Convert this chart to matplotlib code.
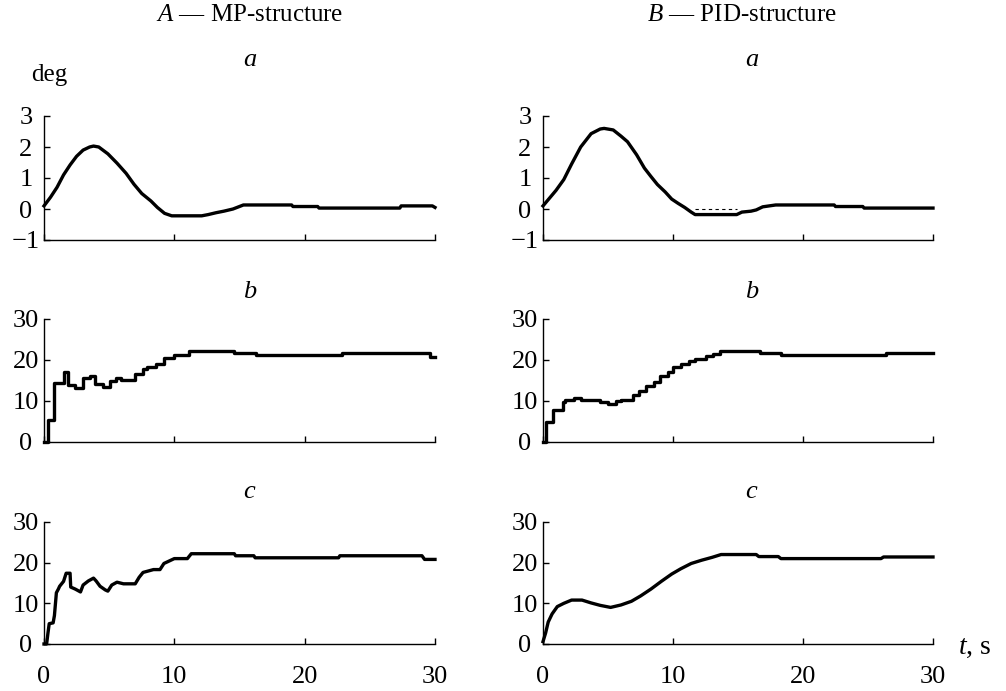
import matplotlib
matplotlib.use("Agg")
import matplotlib.pyplot as plt

plt.rcParams['font.family'] = ['Liberation Serif', 'DejaVu Serif']
plt.rcParams['mathtext.fontset'] = 'custom'
plt.rcParams['mathtext.rm'] = 'Liberation Serif'
plt.rcParams['mathtext.it'] = 'Liberation Serif:italic'

# A (MP-structure), panel a: angle, deg
t_Aa = [0, 0.5, 1.0, 1.5, 2.0, 2.5, 3.0, 3.5, 3.8, 4.2, 4.9, 5.6, 6.3, 6.9, 7.5, 8.2,
        8.7, 9.25, 9.8, 12.1, 12.6, 13.2, 13.8, 14.5, 15.3, 19.0, 19.1, 21.0, 21.1,
        27.3, 27.4, 29.8, 30]
v_Aa = [0.1, 0.38, 0.7, 1.1, 1.42, 1.7, 1.9, 2.0, 2.03, 2.0, 1.78, 1.48, 1.15, 0.8,
        0.5, 0.26, 0.05, -0.14, -0.22, -0.22, -0.18, -0.12, -0.07, 0.0, 0.13, 0.13,
        0.08, 0.08, 0.03, 0.03, 0.1, 0.1, 0.05]

# B (PID-structure), panel a
t_Ba = [0, 0.5, 1.0, 1.6, 2.2, 2.9, 3.7, 4.4, 4.7, 5.4, 6.0, 6.5, 7.2, 7.8, 8.3, 8.8,
        9.4, 9.9, 10.4, 10.9, 11.4, 11.7, 14.9, 15.3, 16.0, 16.4, 16.9, 17.9, 22.4,
        22.5, 24.6, 24.7, 30]
v_Ba = [0.1, 0.35, 0.6, 0.95, 1.45, 2.0, 2.43, 2.58, 2.6, 2.55, 2.35, 2.17, 1.75,
        1.32, 1.05, 0.79, 0.55, 0.32, 0.18, 0.05, -0.1, -0.18, -0.18, -0.1, -0.07,
        -0.03, 0.07, 0.13, 0.13, 0.08, 0.08, 0.03, 0.03]
t_Ba_ref = [11.7, 14.9]
v_Ba_ref = [0, 0]

# panel b (step signals)
t_Ab = [0, 0.3, 0.8, 1.5, 1.85, 2.4, 3.0, 3.5, 3.9, 4.5, 5.1, 5.5, 5.9, 7.0, 7.6, 7.9,
        8.6, 9.2, 10.0, 11.1, 14.6, 16.3, 22.9, 29.6, 30]
v_Ab = [0, 5.3, 14.3, 17.0, 13.8, 13.2, 15.6, 16.2, 14.2, 13.3, 14.8, 15.6, 15.2,
        16.5, 17.8, 18.3, 19.0, 20.6, 21.2, 22.2, 21.6, 21.2, 21.6, 20.8, 20.8]

t_Bb = [0, 0.25, 0.8, 1.5, 1.7, 2.4, 2.9, 4.4, 5.0, 5.6, 6.0, 6.9, 7.4, 7.9, 8.5, 9.0,
        9.6, 10.0, 10.6, 11.2, 11.7, 12.5, 13.1, 13.6, 16.7, 18.3, 26.4, 30]
v_Bb = [0, 4.9, 7.9, 9.8, 10.3, 10.8, 10.3, 9.8, 9.3, 10.0, 10.3, 11.4, 12.4, 13.6,
        14.6, 16.0, 17.1, 18.3, 19.0, 19.7, 20.3, 20.9, 21.5, 22.2, 21.6, 21.2, 21.6,
        21.6]

# panel c
t_Ac = [0, 0.2, 0.3, 0.4, 0.7, 0.8, 0.95, 1.1, 1.2, 1.5, 1.7, 2.0, 2.05, 2.4, 2.8,
        3.0, 3.4, 3.8, 4.0, 4.3, 4.7, 4.9, 5.2, 5.6, 6.1, 7.0, 7.3, 7.6, 8.4, 8.9,
        9.2, 9.6, 10.0, 11.0, 11.3, 14.6, 14.7, 16.1, 16.2, 22.6, 22.7, 29.0, 29.2, 30]
v_Ac = [0, 0, 2.6, 5.0, 5.2, 7.0, 12.6, 13.5, 14.2, 15.4, 17.4, 17.4, 14.0, 13.5,
        12.8, 14.5, 15.5, 16.2, 15.5, 14.2, 13.3, 13.0, 14.5, 15.2, 14.8, 14.8, 16.4,
        17.6, 18.3, 18.3, 19.8, 20.4, 21.0, 21.0, 22.2, 22.2, 21.7, 21.7, 21.2, 21.2,
        21.7, 21.7, 20.8, 20.8]

t_Bc = [0, 0.2, 0.4, 0.7, 1.1, 1.6, 2.2, 3.0, 3.7, 4.4, 5.2, 6.0, 6.8, 7.5, 8.3, 9.1,
        9.9, 10.6, 11.4, 12.2, 13.0, 13.7, 16.4, 16.6, 18.1, 18.3, 26.0, 26.2, 30]
v_Bc = [0.6, 2.7, 5.4, 7.4, 9.2, 10.0, 10.8, 10.8, 10.1, 9.5, 9.0, 9.6, 10.5, 11.8,
        13.5, 15.4, 17.2, 18.5, 19.8, 20.6, 21.3, 22.0, 22.0, 21.5, 21.5, 21.0, 21.0,
        21.4, 21.4]

W, H = 1006, 691
fig = plt.figure(figsize=(W / 100, H / 100), dpi=100)

cols = [(44, 435), (543, 933)]
rows = [(116, 240), (319, 442), (522, 644)]
TICK_FS = 19


def make_ax(c, r):
    x0, x1 = cols[c]
    y0, y1 = rows[r]
    ax = fig.add_axes([x0 / W, 1 - y1 / H, (x1 - x0) / W, (y1 - y0) / H])
    for s in ['top', 'right']:
        ax.spines[s].set_visible(False)
    for s in ['left', 'bottom']:
        ax.spines[s].set_linewidth(1.0)
    ax.set_xlim(0, 30)
    ax.set_xticks([0, 10, 20, 30])
    ax.tick_params(direction='in', length=4, width=1, labelsize=TICK_FS)
    ax.tick_params(axis='x', pad=16)
    ax.tick_params(axis='y', pad=13)
    if r < 2:
        ax.set_xticklabels([])
    if r == 0:
        ax.set_ylim(-1, 3)
        ax.set_yticks([-1, 0, 1, 2, 3])
        ax.set_yticklabels(['\u22121', '0', '1', '2', '3'])
    else:
        ax.set_ylim(0, 30)
        ax.set_yticks([0, 10, 20, 30])
    for lab in ax.get_yticklabels():
        lab.set_horizontalalignment('center')
    return ax


lw = 2.4
ax = make_ax(0, 0)
ax.plot(t_Aa, v_Aa, color='black', lw=lw, clip_on=False)
ax = make_ax(1, 0)
ax.plot(t_Ba, v_Ba, color='black', lw=lw, clip_on=False)
ax.plot(t_Ba_ref, v_Ba_ref, color='black', lw=0.8, ls=(0, (3, 3)))
ax = make_ax(0, 1)
ax.step(t_Ab, v_Ab, where='post', color='black', lw=lw, clip_on=False)
ax = make_ax(1, 1)
ax.step(t_Bb, v_Bb, where='post', color='black', lw=lw, clip_on=False)
ax = make_ax(0, 2)
ax.plot(t_Ac, v_Ac, color='black', lw=lw, clip_on=False)
ax = make_ax(1, 2)
ax.plot(t_Bc, v_Bc, color='black', lw=lw, clip_on=False)

fig.text(250 / W, 1 - 15 / H, '$A$ \u2014 MP-structure', ha='center', va='center', fontsize=18)
fig.text(742 / W, 1 - 15 / H, '$B$ \u2014 PID-structure', ha='center', va='center', fontsize=18)
for cx in (250, 752):
    fig.text(cx / W, 1 - 60 / H, '$a$', ha='center', va='center', fontsize=19)
    fig.text(cx / W, 1 - 292 / H, '$b$', ha='center', va='center', fontsize=19)
    fig.text(cx / W, 1 - 492 / H, '$c$', ha='center', va='center', fontsize=19)
fig.text(49 / W, 1 - 75 / H, 'deg', ha='center', va='center', fontsize=18)
fig.text(975 / W, 1 - 648 / H, '$t$, s', ha='center', va='center', fontsize=20)

fig.savefig('out.png', dpi=100)
